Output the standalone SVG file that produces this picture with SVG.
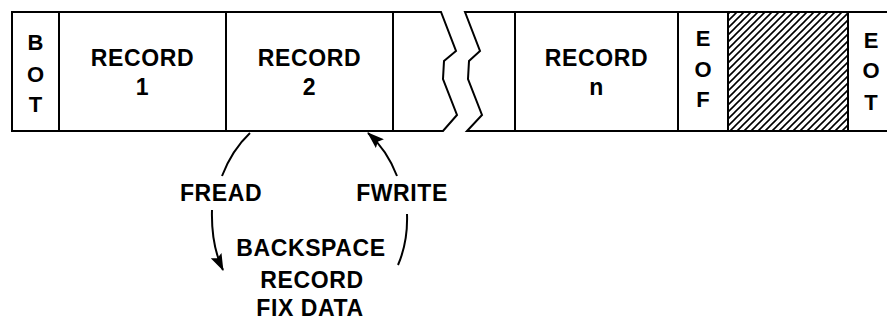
<svg xmlns="http://www.w3.org/2000/svg" width="887" height="320" viewBox="0 0 887 320">
<defs>
<style>
.ln{fill:none;stroke:#000;stroke-width:2;stroke-linejoin:miter}
.t{font-family:"Liberation Sans",Arial,Helvetica,sans-serif;font-weight:bold;font-size:23px;text-anchor:middle;fill:#000;letter-spacing:0.6px}
.s{font-family:"Liberation Sans",Arial,Helvetica,sans-serif;font-weight:bold;font-size:22px;text-anchor:middle;fill:#000}
.arc{fill:none;stroke:#000;stroke-width:2}
</style>
<pattern id="hatch" patternUnits="userSpaceOnUse" width="7" height="7">
<path d="M-1,8 L8,-1 M-2,2 L2,-2 M5,9 L9,5" stroke="#000" stroke-width="1.6"/>
</pattern>
<marker id="ah" viewBox="0 0 17 12" refX="16" refY="6" markerWidth="17" markerHeight="12" markerUnits="userSpaceOnUse" orient="auto">
<path d="M0,0 L17,6 L0,12 L3,6 Z" fill="#000"/>
</marker>
</defs>
<rect width="887" height="320" fill="#fff"/>
<g id="tape">
<path class="ln" d="M441,12 L12,12 L12,131 L443,131 L457,115 L443,79 L444,61 L456,51 Z"/>
<path class="ln" d="M887,12 L465,12 L480,51 L469,61 L468,79 L482,115 L467,131 L887,131"/>
</g>
<g id="bot">
<line class="ln" x1="59" y1="12" x2="59" y2="131"/>
<text class="s" x="35.5" y="50">B</text>
<text class="s" x="35.5" y="82">O</text>
<text class="s" x="35.5" y="112">T</text>
</g>
<g id="record1">
<line class="ln" x1="226" y1="12" x2="226" y2="131"/>
<text class="t" x="142.5" y="66">RECORD</text>
<text class="t" x="142.5" y="95">1</text>
</g>
<g id="record2">
<line class="ln" x1="393" y1="12" x2="393" y2="131"/>
<text class="t" x="309.5" y="66">RECORD</text>
<text class="t" x="309.5" y="95">2</text>
</g>
<g id="recordn">
<line class="ln" x1="515" y1="12" x2="515" y2="131"/>
<line class="ln" x1="678" y1="12" x2="678" y2="131"/>
<text class="t" x="596.5" y="66">RECORD</text>
<text class="t" x="596.5" y="95">n</text>
</g>
<g id="eof">
<line class="ln" x1="728" y1="12" x2="728" y2="131"/>
<text class="s" x="703" y="46">E</text>
<text class="s" x="703" y="77">O</text>
<text class="s" x="703" y="107">F</text>
</g>
<g id="gap">
<rect x="728" y="12" width="120" height="119" fill="url(#hatch)"/>
<line class="ln" x1="848" y1="12" x2="848" y2="131"/>
</g>
<g id="eot">
<text class="s" x="871" y="48">E</text>
<text class="s" x="871" y="78">O</text>
<text class="s" x="871" y="110">T</text>
</g>
<g id="connectors">
<path class="arc" d="M250,133 Q232,150 222,176"/>
<path class="arc" d="M212,210 Q211,245 223,270" marker-end="url(#ah)"/>
<path class="arc" d="M397,176 Q387,150 368,133" marker-end="url(#ah)"/>
<path class="arc" d="M407,214 Q408,242 398,265"/>
</g>
<g id="labels">
<text class="t" x="221" y="201">FREAD</text>
<text class="t" x="402" y="201">FWRITE</text>
<text class="t" x="311" y="256">BACKSPACE</text>
<text class="t" x="312" y="288">RECORD</text>
<text class="t" x="310" y="316">FIX DATA</text>
</g>
</svg>
